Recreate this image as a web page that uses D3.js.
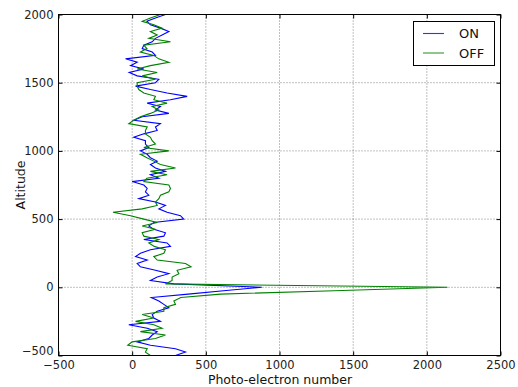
<!DOCTYPE html>
<html>
<head>
<meta charset="utf-8">
<script src="https://cdn.jsdelivr.net/npm/d3@7"></script>
<style>
  body { margin: 0; background: #fff; }
  svg { display: block; font-family: "DejaVu Sans", sans-serif; }
</style>
</head>
<body>
<div id="chart"></div>
<script>
// altitude samples, top to bottom
const altitudes = d3.range(2000, -501, -25);

// photo-electron counts (2000 -> -500)
const onCounts = [
  226, 158, 100, 124, 192, 249, 203, 158, 136, 79,
  68, 136, 158, -45, 34, -11, 79, -20, 34, 181,
  158, 23, 124, 237, 373, 260, 102, 192, 158, 249,
  68, 11, 192, 158, 170, 79, 11, 90, 90, 113,
  56, 102, 124, 170, 124, 158, 226, 124, 181, 0,
  79, 102, 90, 113, 45, 158, 226, 181, 237, 328,
  350, 147, 113, 147, 226, 215, 79, 237, 260, 124,
  56, 23, 102, 34, 56, 158, 249, 170, 124, 283,
  880, 620, 380, 130, 181, 215, 249, 170, 136, 147,
  192, -23, 102, 170, 136, 113, 34, 124, 294, 362,
  294
];

const offCounts = [
  192, 124, 68, 147, 203, 124, 170, 113, 260, 79,
  100, 56, 147, 180, 249, 124, 34, 170, 68, 158,
  34, 34, 45, 79, 158, 147, 237, 136, 180, 124,
  56, 11, -23, 102, 90, 90, 124, 136, 158, 79,
  249, 56, 100, 147, 192, 294, 124, 237, 100, 79,
  249, 260, 249, 192, 181, 158, 170, 68, -130, -11,
  79, 170, 68, 158, 68, 79, 181, 113, 150, 226,
  215, 147, 170, 362, 400, 305, 317, 271, 271, 226,
  2140, 1370, 600, 330, 283, 294, 215, 215, 68, 147,
  23, 147, 203, 56, 226, 158, 0, -30, 102, 90,
  124
];

const xTicks = [-500, 0, 500, 1000, 1500, 2000, 2500];
const yTicks = [-500, 0, 500, 1000, 1500, 2000];

const seriesNames = ['ON', 'OFF'];
const seriesColors = ['#0000ff', '#008000'];

const width = 518, height = 387;
const mLeft = 58.5, mRight = 500.5, mTop = 14.5, mBottom = 355.5;

const svg = d3.select('#chart').append('svg').attr('width', width).attr('height', height);

const x = d3.scaleLinear().domain([-500, 2500]).range([mLeft, mRight]);
const y = d3.scaleLinear().domain([-500, 2000]).range([mBottom, mTop]);

const fmt = d => d3.format('d')(d).replace('-', '\u2212');

// grid
const grid = svg.append('g');
grid.selectAll('.gx').data(xTicks).enter().append('line')
  .attr('x1', d => x(d)).attr('x2', d => x(d))
  .attr('y1', mTop).attr('y2', mBottom)
  .style('stroke', '#000').style('stroke-width', 0.5).style('stroke-dasharray', '1,2');
grid.selectAll('.gy').data(yTicks).enter().append('line')
  .attr('y1', d => y(d)).attr('y2', d => y(d))
  .attr('x1', mLeft).attr('x2', mRight)
  .style('stroke', '#000').style('stroke-width', 0.5).style('stroke-dasharray', '1,2');

// lines
const series = [onCounts, offCounts];
series.forEach((vals, i) => {
  const line = d3.line().x(d => x(d)).y((d, j) => y(altitudes[j]));
  svg.append('path').datum(vals)
    .attr('d', line)
    .style('fill', 'none')
    .style('stroke', seriesColors[i])
    .style('stroke-width', 1.1);
});

// axes, ticks pointing inward on all four sides
const axB = svg.append('g').attr('transform', `translate(0,${mBottom})`)
  .call(d3.axisBottom(x).tickValues(xTicks).tickSize(-4).tickPadding(5).tickFormat(fmt));
const axT = svg.append('g').attr('transform', `translate(0,${mTop})`)
  .call(d3.axisTop(x).tickValues(xTicks).tickSize(-4).tickFormat(''));
const axL = svg.append('g').attr('transform', `translate(${mLeft},0)`)
  .call(d3.axisLeft(y).tickValues(yTicks).tickSize(-4).tickPadding(5).tickFormat(fmt));
const axR = svg.append('g').attr('transform', `translate(${mRight},0)`)
  .call(d3.axisRight(y).tickValues(yTicks).tickSize(-4).tickFormat(''));

[axB, axT, axL, axR].forEach(g => {
  g.select('.domain').remove();
  g.selectAll('line').style('stroke', '#000');
  g.selectAll('text').style('font-size', '11.5px').style('fill', '#222').style('font-family', '"DejaVu Sans", sans-serif');
});
// lowest y label sits just above the corner, as in the original
axL.selectAll('text').filter(d => d === -500).attr('dy', '-0.05em');

svg.append('rect')
  .attr('x', mLeft).attr('y', mTop).attr('width', mRight - mLeft).attr('height', mBottom - mTop)
  .style('fill', 'none').style('stroke', '#000').style('stroke-width', 1);

// axis labels
svg.append('text').attr('x', 280).attr('y', 383.5)
  .attr('text-anchor', 'middle').style('font-size', '12.5px').style('fill', '#111').text('Photo-electron number');
svg.append('text').attr('transform', `translate(25,${(mTop + mBottom) / 2}) rotate(-90)`)
  .attr('text-anchor', 'middle').style('font-size', '12.5px').style('fill', '#111').text('Altitude');

// legend
const lg = svg.append('g');
lg.append('rect').attr('x', 413.5).attr('y', 21.5).attr('width', 81).attr('height', 44)
  .style('fill', '#fff').style('stroke', '#000').style('stroke-width', 1);
seriesNames.forEach((name, i) => {
  const ly = 33.5 + i * 19.5;
  lg.append('line').attr('x1', 423).attr('x2', 444).attr('y1', ly).attr('y2', ly)
    .style('stroke', seriesColors[i]).style('stroke-width', 1.1).style('opacity', 0.8);
  lg.append('text').attr('x', 459).attr('y', ly + 4.5).style('font-size', '13px').style('fill', '#111').text(name);
});
</script>
</body>
</html>
